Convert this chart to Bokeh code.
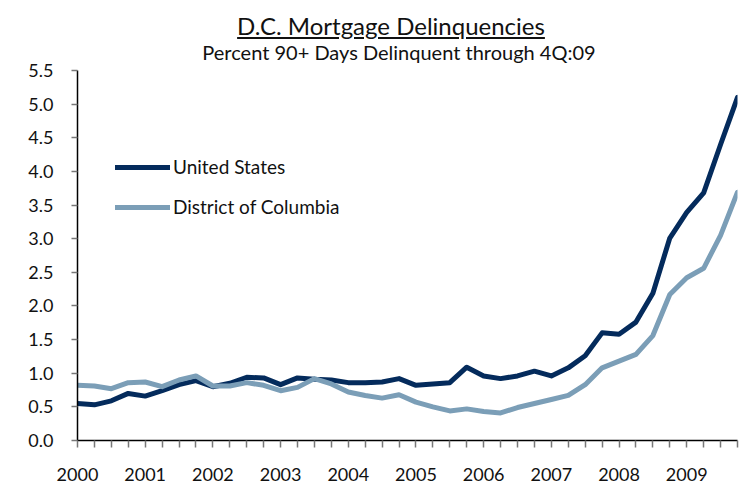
from bokeh.plotting import figure
from bokeh.models import Div, Legend, LegendItem, FixedTicker, NumeralTickFormatter, Range1d, ColumnDataSource
from bokeh.layouts import column
from bokeh.embed import file_html
from bokeh.resources import INLINE

# Quarterly data 1Q:2000 - 4Q:2009
quarters = list(range(40))
years = ["2000", "2001", "2002", "2003", "2004", "2005", "2006", "2007", "2008", "2009"]
us = [0.55, 0.53, 0.59, 0.70, 0.66, 0.74, 0.83, 0.89, 0.80, 0.85,
      0.94, 0.93, 0.83, 0.93, 0.91, 0.90, 0.86, 0.86, 0.87, 0.92,
      0.82, 0.84, 0.86, 1.09, 0.96, 0.92, 0.96, 1.03, 0.96, 1.08,
      1.26, 1.60, 1.58, 1.76, 2.19, 3.01, 3.39, 3.68, 4.40, 5.10]
dc = [0.82, 0.81, 0.77, 0.86, 0.87, 0.80, 0.90, 0.96, 0.81, 0.81,
      0.86, 0.82, 0.74, 0.79, 0.92, 0.84, 0.72, 0.67, 0.63, 0.68,
      0.57, 0.50, 0.44, 0.47, 0.43, 0.41, 0.49, 0.55, 0.61, 0.67,
      0.83, 1.08, 1.18, 1.28, 1.56, 2.17, 2.42, 2.56, 3.05, 3.69]
y_ticks = [0.0, 0.5, 1.0, 1.5, 2.0, 2.5, 3.0, 3.5, 4.0, 4.5, 5.0, 5.5]

FONT = "Lato"
US_COLOR = "#042b5c"
DC_COLOR = "#7b9eb7"

title_div = Div(
    text=(
        f'<div style="font-family:{FONT};width:755px;text-align:center;color:#111;">'
        f'<div style="padding-top:11px;padding-left:27px;font-size:24px;line-height:30px;">'
        f'<span style="text-decoration:underline;">D.C. Mortgage Delinquencies</span></div>'
        f'<div style="padding-left:43px;font-size:20px;line-height:22px;white-space:nowrap;">'
        f'Percent 90+ Days Delinquent through 4Q:09</div>'
        '</div>'
    ),
    width=755, height=58,
    styles={"margin": "0", "padding": "0", "overflow": "visible", "z-index": "2"},
)

p = figure(width=755, height=428, output_backend="svg", toolbar_location=None,
           x_range=Range1d(0, 39), y_range=Range1d(0, 5.5),
           min_border_left=77, min_border_right=18, min_border_top=12, min_border_bottom=46)
p.outline_line_color = None
p.grid.visible = False
p.border_fill_alpha = 0
p.background_fill_color = "white"

src = ColumnDataSource(dict(q=quarters, us=us, dc=dc))
r_us = p.line("q", "us", source=src, line_color=US_COLOR, line_width=5, line_join="round", line_cap="round")
r_dc = p.line("q", "dc", source=src, line_color=DC_COLOR, line_width=5, line_join="round", line_cap="round")

# x axis: a tick every quarter, a label every year
p.xaxis.ticker = FixedTicker(ticks=quarters)
overrides = {q: "" for q in quarters}
for i, y in enumerate(years):
    overrides[i * 4] = y
p.xaxis.major_label_overrides = overrides
p.xaxis.minor_tick_line_color = None
p.xaxis.major_tick_in = 0
p.xaxis.major_tick_out = 7
p.xaxis.major_tick_line_color = "#777777"
p.xaxis.major_tick_line_width = 1.5
p.xaxis.axis_line_color = "black"
p.xaxis.axis_line_width = 1.5
p.xaxis.major_label_standoff = 20
p.xaxis.major_label_text_line_height = 1.0
p.xaxis.major_label_text_font = FONT
p.xaxis.major_label_text_font_size = "18px"
p.xaxis.major_label_text_color = "#111111"

p.yaxis.ticker = FixedTicker(ticks=y_ticks)
p.yaxis.formatter = NumeralTickFormatter(format="0.0")
p.yaxis.minor_tick_line_color = None
p.yaxis.major_tick_in = 0
p.yaxis.major_tick_out = 6
p.yaxis.major_tick_line_color = "#777777"
p.yaxis.major_tick_line_width = 1.5
p.yaxis.axis_line_color = "black"
p.yaxis.axis_line_width = 1.5
p.yaxis.major_label_standoff = 18
p.yaxis.major_label_text_font = FONT
p.yaxis.major_label_text_font_size = "18px"
p.yaxis.major_label_text_color = "#111111"

legend = Legend(items=[LegendItem(label="United States", renderers=[r_us]),
                       LegendItem(label="District of Columbia", renderers=[r_dc])],
                location=(38, 222), orientation="vertical",
                glyph_width=55, glyph_height=20, label_height=20, label_standoff=3,
                spacing=17, padding=0, margin=0,
                border_line_color=None, background_fill_alpha=0,
                label_text_font=FONT, label_text_font_size="19px", label_text_color="#111111")
p.add_layout(legend)

layout = column(title_div, p, spacing=0)
open("out.html", "w").write(file_html(layout, INLINE))
